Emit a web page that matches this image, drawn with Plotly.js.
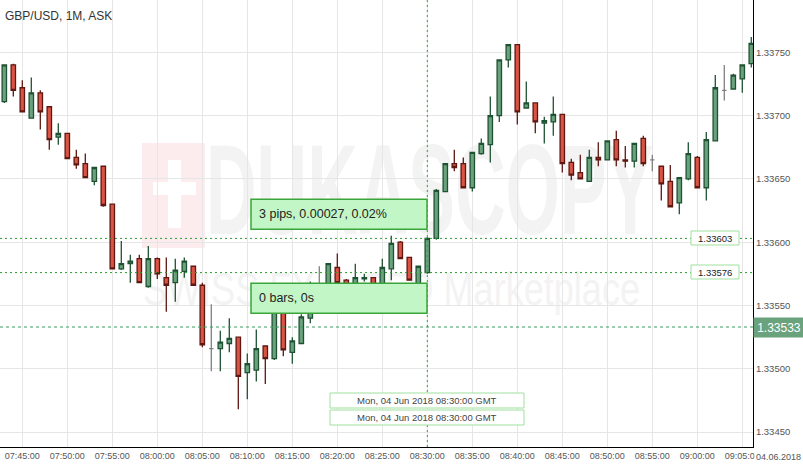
<!DOCTYPE html>
<html>
<head>
<meta charset="utf-8">
<script src="https://cdn.plot.ly/plotly-3.0.1.min.js"></script>
<style>
  html, body { margin:0; padding:0; background:#ffffff; }
  #wrap { position:relative; width:803px; height:467px; overflow:hidden; }
  #wm { position:absolute; left:0; top:0; width:803px; height:467px; z-index:0; font-family:"Liberation Sans", Arial, sans-serif; }
  #wm div { position:absolute; white-space:nowrap; }
  #chart { position:absolute; left:0; top:0; width:803px; height:467px; z-index:1; }
</style>
</head>
<body>
<div id="wrap">
  <div id="wm">
    <div style="left:142px;top:143px;width:63px;height:105px;background:#fcecee;"></div>
    <div style="left:168px;top:160px;width:13px;height:68px;background:#ffffff;"></div>
    <div style="left:153px;top:182px;width:43px;height:13px;background:#ffffff;"></div>
    <div style="left:206px;top:126px;font-size:128px;line-height:1;font-weight:bold;color:#f3f3f3;transform:scaleX(0.547);transform-origin:0 0;">DUKASCOPY</div>
    <div style="left:143px;top:266px;font-size:46px;line-height:1;color:#f3f3f3;transform:scaleX(0.784);transform-origin:0 0;">SWISS FX &amp; CFD Marketplace</div>
  </div>
  <div id="chart"></div>
</div>
<script>
// ---- data (GBP/USD 1-minute bars, 04 Jun 2018) ----
const times = ["07:43","07:44","07:45","07:46","07:47","07:48","07:49","07:50","07:51","07:52",
  "07:53","07:54","07:55","07:56","07:57","07:58","07:59","08:00","08:01","08:02",
  "08:03","08:04","08:05","08:06","08:07","08:08","08:09","08:10","08:11","08:12",
  "08:13","08:14","08:15","08:16","08:17","08:18","08:19","08:20","08:21","08:22",
  "08:23","08:24","08:25","08:26","08:27","08:28","08:29","08:30","08:31","08:32",
  "08:33","08:34","08:35","08:36","08:37","08:38","08:39","08:40","08:41","08:42",
  "08:43","08:44","08:45","08:46","08:47","08:48","08:49","08:50","08:51","08:52",
  "08:53","08:54","08:55","08:56","08:57","08:58","08:59","09:00","09:01","09:02",
  "09:03","09:04","09:05","09:06"];
const openP = [1.33711,1.33740,1.33722,1.33698,1.33718,1.33707,1.33683,1.33686,1.33667,1.33662,
  1.33648,1.33660,1.33630,1.33579,1.33583,1.33587,1.33565,1.33587,1.33572,1.33568,
  1.33577,1.33581,1.33566,1.33516,1.33516,1.33520,1.33525,1.33497,1.33499,1.33518,
  1.33508,1.33552,1.33513,1.33520,1.33540,1.33560,1.33562,1.33580,1.33570,1.33562,
  1.33571,1.33572,1.33565,1.33579,1.33600,1.33588,1.33566,1.33576,1.33603,1.33640,
  1.33662,1.33662,1.33643,1.33670,1.33677,1.33700,1.33744,1.33756,1.33706,1.33710,
  1.33694,1.33695,1.33701,1.33663,1.33655,1.33648,1.33667,1.33665,1.33681,1.33665,
  1.33664,1.33682,1.33665,1.33660,1.33648,1.33631,1.33650,1.33667,1.33643,1.33680,
  1.33720,1.33721,1.33729,1.33741];
const highP = [1.33740,1.33741,1.33728,1.33730,1.33720,1.33707,1.33694,1.33686,1.33673,1.33670,
  1.33659,1.33660,1.33630,1.33601,1.33590,1.33590,1.33597,1.33588,1.33588,1.33587,
  1.33588,1.33581,1.33568,1.33551,1.33530,1.33540,1.33525,1.33512,1.33531,1.33518,
  1.33558,1.33555,1.33525,1.33543,1.33569,1.33581,1.33583,1.33591,1.33571,1.33583,
  1.33575,1.33572,1.33587,1.33605,1.33601,1.33588,1.33581,1.33604,1.33642,1.33662,
  1.33673,1.33667,1.33671,1.33682,1.33715,1.33744,1.33756,1.33756,1.33727,1.33710,
  1.33699,1.33715,1.33701,1.33666,1.33669,1.33673,1.33679,1.33680,1.33688,1.33676,
  1.33678,1.33684,1.33669,1.33660,1.33661,1.33651,1.33679,1.33668,1.33687,1.33732,
  1.33740,1.33733,1.33740,1.33762];
const lowP = [1.33710,1.33715,1.33703,1.33698,1.33689,1.33673,1.33677,1.33666,1.33658,1.33651,
  1.33645,1.33628,1.33579,1.33578,1.33568,1.33568,1.33564,1.33571,1.33545,1.33553,
  1.33572,1.33566,1.33517,1.33498,1.33498,1.33513,1.33468,1.33476,1.33490,1.33488,
  1.33507,1.33510,1.33504,1.33520,1.33536,1.33550,1.33560,1.33565,1.33563,1.33560,
  1.33569,1.33562,1.33562,1.33570,1.33587,1.33570,1.33564,1.33575,1.33602,1.33640,
  1.33656,1.33643,1.33640,1.33669,1.33663,1.33695,1.33738,1.33693,1.33706,1.33686,
  1.33678,1.33684,1.33655,1.33649,1.33650,1.33648,1.33660,1.33665,1.33660,1.33659,
  1.33659,1.33660,1.33656,1.33633,1.33628,1.33622,1.33649,1.33643,1.33633,1.33680,
  1.33712,1.33721,1.33718,1.33738];
const closeP = [1.33740,1.33720,1.33703,1.33718,1.33703,1.33681,1.33686,1.33666,1.33661,1.33651,
  1.33659,1.33629,1.33579,1.33583,1.33585,1.33568,1.33587,1.33575,1.33566,1.33578,
  1.33585,1.33566,1.33519,1.33516,1.33521,1.33524,1.33494,1.33504,1.33516,1.33508,
  1.33555,1.33515,1.33522,1.33541,1.33556,1.33560,1.33583,1.33568,1.33566,1.33572,
  1.33572,1.33565,1.33580,1.33599,1.33587,1.33570,1.33581,1.33603,1.33641,1.33662,
  1.33659,1.33643,1.33671,1.33678,1.33700,1.33744,1.33756,1.33703,1.33710,1.33695,
  1.33696,1.33701,1.33662,1.33653,1.33650,1.33667,1.33665,1.33680,1.33665,1.33664,
  1.33678,1.33662,1.33665,1.33646,1.33628,1.33651,1.33670,1.33643,1.33681,1.33722,
  1.33720,1.33732,1.33740,1.33757];
const sessionDate = "2018-06-04";
const measureHigh = 1.33603;
const measureLow = 1.33576;
const lastPrice = 1.33533;
const crossTime = "08:30";
const crossLabel = "Mon, 04 Jun 2018 08:30:00 GMT";
const titleText = "GBP/USD, 1M, ASK";
const dateLabel = "04.06.2018";

// ---- build traces ----
const xs = times.map(t => sessionDate + " " + t + ":00");
const norm = {x:[],o:[],h:[],l:[],c:[]};
const doji = {x:[],o:[],h:[],l:[],c:[]};
xs.forEach((x,i) => {
  const tgt = (openP[i] === closeP[i]) ? doji : norm;
  tgt.x.push(x); tgt.o.push(openP[i]); tgt.h.push(highP[i]); tgt.l.push(lowP[i]); tgt.c.push(closeP[i]);
});
const FONT = '"Liberation Sans", Arial, sans-serif';
const traces = [
  {type:'candlestick', x:norm.x, open:norm.o, high:norm.h, low:norm.l, close:norm.c,
   increasing:{line:{color:'#1f5232', width:1.3}, fillcolor:'#6aa27e'},
   decreasing:{line:{color:'#5e1711', width:1.3}, fillcolor:'#d95444'},
   hoverinfo:'skip', showlegend:false},
  {type:'candlestick', x:doji.x, open:doji.o, high:doji.h, low:doji.l, close:doji.c,
   increasing:{line:{color:'#808080', width:1.3}, fillcolor:'#808080'},
   decreasing:{line:{color:'#808080', width:1.3}, fillcolor:'#808080'},
   hoverinfo:'skip', showlegend:false}
];

const PH = 447, PW = 753;
const py = v => (PH - v) / PH;   // pixel row -> paper y
const px = v => v / PW;          // pixel col -> paper x
const crossX = sessionDate + " " + crossTime + ":00";

const shapes = [
  {type:'line', xref:'paper', yref:'y', x0:0, x1:1, y0:measureHigh, y1:measureHigh, line:{color:'#2f9a2f', width:1, dash:'2px,3px'}, layer:'above'},
  {type:'line', xref:'paper', yref:'y', x0:0, x1:1, y0:measureLow, y1:measureLow, line:{color:'#2f9a2f', width:1, dash:'2px,3px'}, layer:'above'},
  {type:'line', xref:'paper', yref:'y', x0:0, x1:1, y0:lastPrice, y1:lastPrice, line:{color:'#3f9c62', width:1, dash:'3px,3px'}, layer:'above'},
  {type:'line', xref:'x', yref:'paper', x0:crossX, x1:crossX, y0:0, y1:1, line:{color:'#3a9a3a', width:1, dash:'2px,3px'}, layer:'above'},
  {type:'rect', xref:'paper', yref:'paper', x0:px(251), x1:px(427), y0:py(229.3), y1:py(199.3), fillcolor:'#c3f6c6', line:{color:'#3aa53a', width:1.5}, layer:'above'},
  {type:'rect', xref:'paper', yref:'paper', x0:px(251), x1:px(427), y0:py(313.3), y1:py(283.3), fillcolor:'#c3f6c6', line:{color:'#3aa53a', width:1.5}, layer:'above'},
  {type:'rect', xref:'paper', yref:'paper', x0:px(330), x1:px(524), y0:py(408), y1:py(393), fillcolor:'#ffffff', line:{color:'#9fe09f', width:1}, layer:'above'},
  {type:'rect', xref:'paper', yref:'paper', x0:px(330), x1:px(524), y0:py(425), y1:py(410), fillcolor:'#ffffff', line:{color:'#9fe09f', width:1}, layer:'above'},
  {type:'rect', xref:'paper', yref:'paper', x0:px(691), x1:px(739), y0:py(245), y1:py(231), fillcolor:'#ffffff', line:{color:'#9fe09f', width:1}, layer:'above'},
  {type:'rect', xref:'paper', yref:'paper', x0:px(691), x1:px(739), y0:py(279), y1:py(265), fillcolor:'#ffffff', line:{color:'#9fe09f', width:1}, layer:'above'}
];

const annotations = [
  {xref:'paper', yref:'paper', x:px(257), y:py(214.3), xanchor:'left', yanchor:'middle', showarrow:false,
   text:'3 pips, 0.00027, 0.02%', font:{family:FONT, size:12.5, color:'#222'}},
  {xref:'paper', yref:'paper', x:px(257), y:py(298.3), xanchor:'left', yanchor:'middle', showarrow:false,
   text:'0 bars, 0s', font:{family:FONT, size:12.5, color:'#222'}},
  {xref:'paper', yref:'paper', x:px(427), y:py(400.5), xanchor:'center', yanchor:'middle', showarrow:false,
   text:crossLabel, font:{family:FONT, size:9.5, color:'#444'}},
  {xref:'paper', yref:'paper', x:px(427), y:py(417.5), xanchor:'center', yanchor:'middle', showarrow:false,
   text:crossLabel, font:{family:FONT, size:9.5, color:'#444'}},
  {xref:'paper', yref:'y', x:px(715), y:measureHigh, xanchor:'center', yanchor:'middle', showarrow:false,
   text:measureHigh.toFixed(5), font:{family:FONT, size:9.5, color:'#222'}},
  {xref:'paper', yref:'y', x:px(715), y:measureLow, xanchor:'center', yanchor:'middle', showarrow:false,
   text:measureLow.toFixed(5), font:{family:FONT, size:9.5, color:'#222'}},
  {xref:'paper', yref:'y', x:1, y:lastPrice, xanchor:'left', yanchor:'middle', showarrow:false,
   text:lastPrice.toFixed(5), bgcolor:'#6aa27e', borderpad:2, width:46, height:15,
   font:{family:FONT, size:12, color:'#ffffff'}},
  {xref:'paper', yref:'paper', x:1, y:py(457), xanchor:'left', yanchor:'middle', showarrow:false, xshift:1,
   text:dateLabel, bgcolor:'#ffffff', borderpad:1, font:{family:FONT, size:9, color:'#555'}}
];

const layout = {
  width:803, height:467,
  margin:{l:0, r:50, t:0, b:20, pad:0},
  paper_bgcolor:'rgba(0,0,0,0)', plot_bgcolor:'rgba(0,0,0,0)',
  showlegend:false,
  boxgap:0.3,
  title:{text:titleText, x:5/803, xanchor:'left', xref:'container', y:1-16/467, yanchor:'middle', yref:'container',
         font:{family:FONT, size:12, color:'#333'}},
  xaxis:{type:'date', range:[sessionDate+' 07:42:31.3', sessionDate+' 09:06:11.4'],
         rangeslider:{visible:false}, tickformat:'%H:%M:%S', dtick:300000, tick0:sessionDate+' 07:45:00',
         showgrid:true, gridcolor:'#e6e6e6', gridwidth:1, zeroline:false,
         showline:true, linecolor:'#000', linewidth:1, ticks:'',
         tickfont:{family:FONT, size:9, color:'#555'}, fixedrange:true},
  yaxis:{side:'right', range:[1.3343823, 1.3379131], dtick:0.0005, tick0:1.3345, tickformat:'.5f',
         showgrid:true, gridcolor:'#e6e6e6', gridwidth:1, zeroline:false,
         showline:true, linecolor:'#000', linewidth:1, ticks:'',
         tickfont:{family:FONT, size:9.5, color:'#555'}, fixedrange:true},
  shapes:shapes,
  annotations:annotations
};

Plotly.newPlot('chart', traces, layout, {staticPlot:true, displayModeBar:false});
</script>
</body>
</html>
